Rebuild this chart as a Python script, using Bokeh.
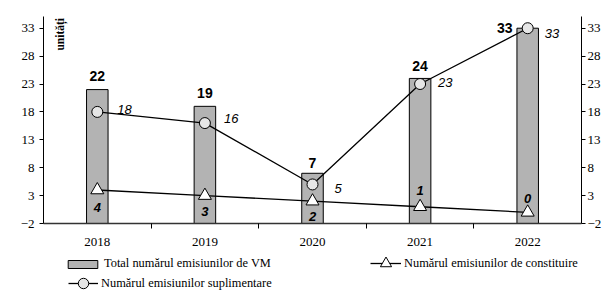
import math
from bokeh.plotting import figure
from bokeh.layouts import column
from bokeh.models import (ColumnDataSource, FixedTicker, LinearAxis, Range1d,
                          Legend, LegendItem, Label)
from bokeh.core.properties import value
from bokeh.embed import file_html
from bokeh.resources import INLINE

# ---- data ----
years = ["2018", "2019", "2020", "2021", "2022"]
total = [22, 19, 7, 24, 33]            # Total numărul emisiunilor de VM
constituire = [4, 3, 2, 1, 0]          # Numărul emisiunilor de constituire
suplimentare = [18, 16, 5, 23, 33]     # Numărul emisiunilor suplimentare
y_ticks = [-2, 3, 8, 13, 18, 23, 28, 33]
y_min, y_max = -2, 35.1

idx = list(range(len(years)))

# ---- label offsets (styles, px) ----
bar_dx = [0, 0, 0, 0, -23]
bar_dy = [-14, -13, -10, -12, 0]
sup_dx = [20, 19, 22, 18, 17]
sup_dy = [-2, -5, 4, -2, 5]
con_dy = [17, 16, 15, -16, -14]

SERIF = "Liberation Serif"
SANS = "Liberation Sans"
BAR_FILL = "#b3b3b3"
CIRCLE_FILL = "#e6e6e6"

p = figure(width=604, height=250, output_backend="svg", toolbar_location=None,
           x_range=Range1d(-0.5, len(years) - 0.5), y_range=Range1d(y_min, y_max),
           min_border_left=43, min_border_right=19, min_border_top=16,
           min_border_bottom=27)
p.xgrid.grid_line_color = None
p.ygrid.grid_line_color = None
p.outline_line_color = None
p.background_fill_color = "white"
p.border_fill_color = "white"

# y axes
p.yaxis[0].ticker = FixedTicker(ticks=y_ticks)
right = LinearAxis(ticker=FixedTicker(ticks=y_ticks))
p.add_layout(right, "right")
for ax in [p.yaxis[0], right]:
    ax.major_tick_out = 4
    ax.major_tick_in = 0
    ax.minor_tick_out = 0
    ax.minor_tick_in = 0
    ax.axis_line_color = "black"
    ax.major_tick_line_color = "black"
    ax.major_label_text_font = SERIF
    ax.major_label_text_font_size = "13px"
    ax.major_label_text_color = "black"
p.yaxis[0].major_label_standoff = 5
right.major_label_standoff = 2

# x axis
xa = p.xaxis[0]
xa.ticker = FixedTicker(ticks=idx, minor_ticks=[i + 0.5 for i in idx[:-1]])
xa.major_label_overrides = {i: y for i, y in zip(idx, years)}
xa.major_tick_out = 0
xa.major_tick_in = 0
xa.minor_tick_out = 5
xa.minor_tick_in = 0
xa.minor_tick_line_color = "black"
xa.axis_line_color = "#333333"
xa.axis_line_width = 1.5
xa.major_label_standoff = 9
xa.major_label_text_font = SERIF
xa.major_label_text_font_size = "13px"
xa.major_label_text_color = "black"

src = ColumnDataSource(dict(x=idx, total=total, cons=constituire, sup=suplimentare,
                            tl=[str(v) for v in total], cl=[str(v) for v in constituire],
                            sl=[str(v) for v in suplimentare],
                            bdx=bar_dx, bdy=bar_dy, sdx=sup_dx, sdy=sup_dy, cdy=con_dy))

BAR_STYLE = dict(fill_color=BAR_FILL, line_color="black", line_width=1)
LINE_STYLE = dict(line_color="black", line_width=1.3)
TRI_STYLE = dict(marker="triangle", fill_color="white", line_color="black", line_width=1)
CIR_STYLE = dict(marker="circle", fill_color=CIRCLE_FILL, line_color="black", line_width=1)

bars = p.vbar(x="x", top="total", bottom=y_min, width=0.2, source=src, **BAR_STYLE)
p.line("x", "cons", source=src, **LINE_STYLE)
p.scatter("x", "cons", source=src, size=13, **TRI_STYLE)
p.line("x", "sup", source=src, **LINE_STYLE)
p.scatter("x", "sup", source=src, size=11, **CIR_STYLE)

# data labels
p.text(x="x", y="total", text="tl", source=src, x_offset="bdx", y_offset="bdy",
       text_font=value(SANS), text_font_style="bold", text_font_size="14px",
       text_align="center", text_baseline="middle", text_color="black")
p.text(x="x", y="sup", text="sl", source=src, x_offset="sdx", y_offset="sdy",
       text_font=value(SANS), text_font_style="italic", text_font_size="13px",
       text_align="left", text_baseline="middle", text_color="black")
p.text(x="x", y="cons", text="cl", source=src, y_offset="cdy",
       text_font=value(SANS), text_font_style="bold italic", text_font_size="13px",
       text_align="center", text_baseline="middle", text_color="black")

# axis title inside plot
p.add_layout(Label(x=-0.343, y=29, text="unități", angle=math.pi / 2,
                   text_font=SERIF, text_font_style="bold", text_font_size="11.5px",
                   text_align="left", text_baseline="middle", text_color="black"))

# ---- legend strip (separate figure so the legend is not clipped) ----
LH = 42
pl = figure(width=604, height=LH, output_backend="svg", toolbar_location=None,
            x_range=Range1d(0, 1), y_range=Range1d(0, 1),
            x_axis_location=None, y_axis_location=None,
            min_border_left=0, min_border_right=0, min_border_top=0, min_border_bottom=0)
pl.xgrid.grid_line_color = None
pl.ygrid.grid_line_color = None
pl.outline_line_color = None
pl.background_fill_color = "white"
pl.border_fill_color = "white"

# legend keys drawn from points placed outside the strip's visible range
kx, ky = [-10], [-10]
kb = pl.vbar(x=kx, top=ky, bottom=-11, width=0.1, **BAR_STYLE)
kl1 = pl.line(kx, ky, **LINE_STYLE)
ks1 = pl.scatter(kx, ky, **TRI_STYLE)
kl2 = pl.line(kx, ky, **LINE_STYLE)
ks2 = pl.scatter(kx, ky, **CIR_STYLE)

def strip_legend(label, renderers, loc, gw, gh):
    return Legend(items=[LegendItem(label=label, renderers=renderers)],
                  location=loc, orientation="vertical",
                  glyph_width=gw, glyph_height=gh, label_height=gh,
                  label_standoff=3, padding=0, margin=0, spacing=0,
                  label_text_font=SERIF, label_text_font_size="12.4px",
                  label_text_color="black",
                  border_line_color=None, background_fill_alpha=0)

pl.add_layout(strip_legend("Total numărul emisiunilor de VM", [kb], (21, 21), 37, 10), "center")
pl.add_layout(strip_legend("Numărul emisiunilor de constituire", [kl1, ks1], (327, 15), 31, 28), "center")
pl.add_layout(strip_legend("Numărul emisiunilor suplimentare", [kl2, ks2], (25, -4), 30, 26), "center")

layout = column(p, pl, spacing=0)
open("out.html", "w").write(file_html(layout, INLINE))
